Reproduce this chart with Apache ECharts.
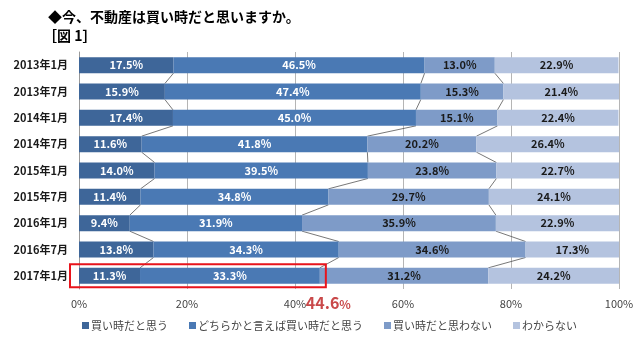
<!DOCTYPE html>
<html><head><meta charset="utf-8">
<script src="https://cdn.jsdelivr.net/npm/echarts@6/dist/echarts.min.js"></script>
<style>html,body{margin:0;padding:0;background:#fff}#c{width:637px;height:339px}</style>
</head><body><div id="c"></div>
<script>
const categories = ['2013年1月','2013年7月','2014年1月','2014年7月','2015年1月','2015年7月','2016年1月','2016年7月','2017年1月'];
const seriesNames = ['買い時だと思う','どちらかと言えば買い時だと思う','買い時だと思わない','わからない'];
const buyNow = [17.5,15.9,17.4,11.6,14.0,11.4,9.4,13.8,11.3];
const ratherBuy = [46.5,47.4,45.0,41.8,39.5,34.8,31.9,34.3,33.3];
const notBuy = [13.0,15.3,15.1,20.2,23.8,29.7,35.9,34.6,31.2];
const dontKnow = [22.9,21.4,22.4,26.4,22.7,24.1,22.9,17.3,24.2];
const xTicks = ['0%','20%','40%','60%','80%','100%'];
const highlightLabel = '44.6';

const colors = ['#3E6699','#4A79B4','#7E9BC8','#B4C3DF'];
const labelColors = ['#fff','#fff','#1a1a1a','#1a1a1a'];
const values = [buyNow, ratherBuy, notBuy, dontKnow];
const font = '"Noto Sans CJK JP", "Noto Sans", sans-serif';
const BAR = 16;

// cumulative boundaries
const cum = [];
for (let k = 1; k <= 3; k++) {
  cum.push(categories.map((_, i) => { let s = 0; for (let j = 0; j < k; j++) s += values[j][i]; return s; }));
}
const connData = [];
cum.forEach(c => { for (let i = 0; i < c.length - 1; i++) connData.push([c[i], i, c[i + 1]]); });

const chart = echarts.init(document.getElementById('c'));
const barSeries = values.map((v, k) => ({
  name: seriesNames[k], type: 'bar', stack: 'a', barWidth: BAR, data: v,
  itemStyle: { color: colors[k] },
  label: { show: true, position: 'inside', formatter: p => p.value.toFixed(1) + '%',
    color: labelColors[k], fontWeight: 'bold', fontSize: 11, fontFamily: font },
  z: 3
}));
const connSeries = {
  type: 'custom', coordinateSystem: 'cartesian2d', silent: true, z: 2,
  encode: { x: [0, 2], y: 1 },
  data: connData,
  renderItem: (params, api) => {
    const a = api.coord([api.value(0), api.value(1)]);
    const b = api.coord([api.value(2), api.value(1) + 1]);
    return { type: 'line', shape: { x1: a[0], y1: a[1] + BAR / 2, x2: b[0], y2: b[1] - BAR / 2 },
      style: { stroke: '#555', lineWidth: 0.8 } };
  }
};

chart.setOption({
  animation: false,
  title: [
    { text: '◆今、不動産は買い時だと思いますか。', left: 43, top: 5,
      textStyle: { fontSize: 14, fontWeight: 'bold', color: '#000', fontFamily: font } },
    { text: '［図 1］', left: 38, top: 24,
      textStyle: { fontSize: 14, fontWeight: 'bold', color: '#000', fontFamily: font } }
  ],
  grid: { left: 79, right: 18, top: 52, bottom: 50, containLabel: false },
  xAxis: { type: 'value', min: 0, max: 100, interval: 20,
    axisLabel: { formatter: v => xTicks[v / 20], color: '#444', fontSize: 11, fontFamily: font, margin: 9 },
    splitLine: { show: true, lineStyle: { color: '#b5b5b5', width: 1 } },
    axisLine: { show: false }, axisTick: { show: false } },
  yAxis: { type: 'category', data: categories, inverse: true,
    axisLabel: { color: '#1a1a1a', fontWeight: 'bold', fontSize: 11, fontFamily: font, margin: 11 },
    axisLine: { show: true, lineStyle: { color: '#999' } }, axisTick: { show: false } },
  legend: { bottom: 3, left: 77, itemWidth: 7, itemHeight: 7, itemGap: 21, icon: 'rect',
    data: seriesNames,
    textStyle: { fontSize: 11, color: '#444', fontFamily: font, padding: [0, 0, 0, -3] } },
  series: [...barSeries, connSeries]
});

// highlight annotation around the last row
const last = categories.length - 1;
const p0 = chart.convertToPixel({ gridIndex: 0 }, [0, last]);
const p1 = chart.convertToPixel({ gridIndex: 0 }, [buyNow[last] + ratherBuy[last], last]);
chart.setOption({
  graphic: [
    { type: 'rect', shape: { x: p0[0] - 9, y: p0[1] - 11.5, width: p1[0] - p0[0] + 15, height: 23 },
      style: { fill: 'none', stroke: '#e8141c', lineWidth: 2 }, z: 10 },
    { type: 'text', x: p1[0] - 14, y: 303, style: { text: '{a|' + highlightLabel + '}{b|%}',
      verticalAlign: 'middle', rich: {
        a: { fontSize: 16, fontWeight: 'bold', fill: '#C9494A', fontFamily: font },
        b: { fontSize: 12, fontWeight: 'bold', fill: '#C9494A', fontFamily: font, padding: [3, 0, 0, 0] } } }, z: 10 }
  ]
});
</script></body></html>
